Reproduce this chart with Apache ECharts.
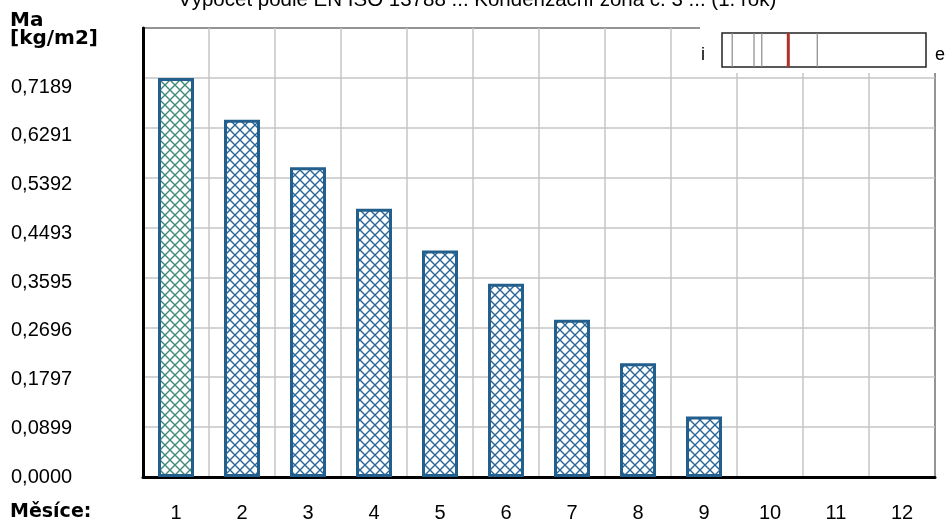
<!DOCTYPE html>
<html>
<head>
<meta charset="utf-8">
<script src="https://cdn.jsdelivr.net/npm/echarts@6/dist/echarts.min.js"></script>
<style>
html,body{margin:0;padding:0;background:#fff;}
#c{width:947px;height:527px;}
</style>
</head>
<body>
<div id="c"></div>
<script>
// ---- data ----
const titleText = 'Výpočet podle EN ISO 13788 ... Kondenzační zóna č. 3 ... (1. rok)';
const categories = ['1','2','3','4','5','6','7','8','9','10','11','12'];
const maValues = [0.7189, 0.6433, 0.5579, 0.4830, 0.4079, 0.3479, 0.2831, 0.2049, 0.1090, null, null, null];
const yTickLabels = ['0,0000','0,0899','0,1797','0,2696','0,3595','0,4493','0,5392','0,6291','0,7189'];
const yAxisName = ['Ma', '[kg/m2]'];
const xAxisName = 'Měsíce:';
const layerBounds = [0.05, 0.157, 0.195, 0.467];
const zoneBounds = [0.325];
const sideLabels = ['i', 'e'];

const yStep = 0.7189 / 8;

function makePattern(color) {
  const c = document.createElement('canvas');
  c.width = 10; c.height = 10;
  const g = c.getContext('2d');
  g.fillStyle = '#ffffff';
  g.fillRect(0, 0, 10, 10);
  g.strokeStyle = color;
  g.lineWidth = 1.4;
  g.beginPath();
  g.moveTo(0, 0); g.lineTo(10, 10);
  g.moveTo(10, 0); g.lineTo(0, 10);
  g.stroke();
  return c;
}
const patFirst = { image: makePattern('#3f8a78'), repeat: 'repeat' };
const patOther = { image: makePattern('#28669a'), repeat: 'repeat' };

const barData = maValues.map((v, i) => ({
  value: v,
  itemStyle: { color: i === 0 ? patFirst : patOther }
}));

function verticalSegments(bounds) {
  const out = [];
  bounds.forEach((b, i) => {
    if (i > 0) out.push('-');
    out.push([b, 0], [b, 1]);
  });
  return out;
}

const chart = echarts.init(document.getElementById('c'), null, { renderer: 'canvas' });
const FONT = '"Liberation Sans", Arial, sans-serif';
const BOLD = 'bold 20px "DejaVu Sans", sans-serif';

chart.setOption({
  animation: false,
  backgroundColor: '#ffffff',
  title: {
    text: titleText,
    left: 178,
    top: -10,
    padding: 0,
    z: 90,
    textStyle: { fontFamily: FONT, fontSize: 20.5, fontWeight: 'normal', color: '#000' }
  },
  grid: [
    { left: 143, right: 12, top: 28, bottom: 50, show: true, borderColor: '#000', borderWidth: 2, backgroundColor: 'transparent' },
    { left: 722, top: 33, width: 204, height: 34, show: true, borderColor: '#222', borderWidth: 1.5, backgroundColor: 'transparent', z: 60 }
  ],
  xAxis: [
    {
      type: 'category', gridIndex: 0, data: categories, boundaryGap: true,
      axisLine: { lineStyle: { color: '#000', width: 3 } },
      axisTick: { show: false },
      axisLabel: { fontFamily: FONT, fontSize: 20, color: '#000', margin: 26, interval: 0 },
      splitLine: { show: true, interval: 0, lineStyle: { color: '#c6c6c6', width: 1.5 } }
    },
    { type: 'value', gridIndex: 1, min: 0, max: 1, show: false }
  ],
  yAxis: [
    {
      type: 'value', gridIndex: 0, min: 0, max: yStep * 9, interval: yStep,
      axisLine: { show: true, lineStyle: { color: '#000', width: 3 } },
      axisTick: { show: false },
      axisLabel: { show: false },
      splitLine: { show: true, lineStyle: { color: '#c6c6c6', width: 1.5 } }
    },
    {
      type: 'value', gridIndex: 0, position: 'left', min: 0, max: 0.8277, interval: yStep,
      axisLine: { show: false }, axisTick: { show: false }, splitLine: { show: false },
      axisLabel: {
        showMaxLabel: false,
        align: 'left', margin: 132,
        fontFamily: FONT, fontSize: 20, color: '#000',
        formatter: v => { const k = Math.round(v / yStep); return k < yTickLabels.length ? yTickLabels[k] : ''; }
      }
    },
    { type: 'value', gridIndex: 1, min: 0, max: 1, show: false }
  ],
  series: [
    {
      type: 'bar', xAxisIndex: 0, yAxisIndex: 0, data: barData, barWidth: 36,
      itemStyle: { borderColor: '#235f8c', borderWidth: 3 }
    },
    {
      type: 'line', xAxisIndex: 1, yAxisIndex: 2, data: verticalSegments(layerBounds),
      showSymbol: false, symbol: 'none', connectNulls: false, silent: true, z: 60,
      lineStyle: { color: '#8a8a8a', width: 1.2 }
    },
    {
      type: 'line', xAxisIndex: 1, yAxisIndex: 2, data: verticalSegments(zoneBounds),
      showSymbol: false, symbol: 'none', connectNulls: false, silent: true, z: 61,
      lineStyle: { color: '#b0302c', width: 3 }
    }
  ],
  graphic: [
    { type: 'rect', z: 50, shape: { x: 700, y: 0, width: 247, height: 73 }, style: { fill: '#ffffff' } },
    { type: 'text', z: 70, style: { text: sideLabels[0], x: 703, y: 55, font: '18px ' + FONT, fill: '#000', textAlign: 'center', textVerticalAlign: 'middle' } },
    { type: 'text', z: 70, style: { text: sideLabels[1], x: 940, y: 55, font: '18px ' + FONT, fill: '#000', textAlign: 'center', textVerticalAlign: 'middle' } },
    { type: 'text', z: 70, style: { text: yAxisName[0], x: 10, y: 21, font: BOLD, fill: '#000', textVerticalAlign: 'middle' } },
    { type: 'text', z: 70, style: { text: yAxisName[1], x: 10, y: 39, font: BOLD, fill: '#000', textVerticalAlign: 'middle' } },
    { type: 'text', z: 70, style: { text: xAxisName, x: 10, y: 512, font: 'bold 19px "DejaVu Sans", sans-serif', fill: '#000', textVerticalAlign: 'middle' } }
  ]
});
</script>
</body>
</html>
